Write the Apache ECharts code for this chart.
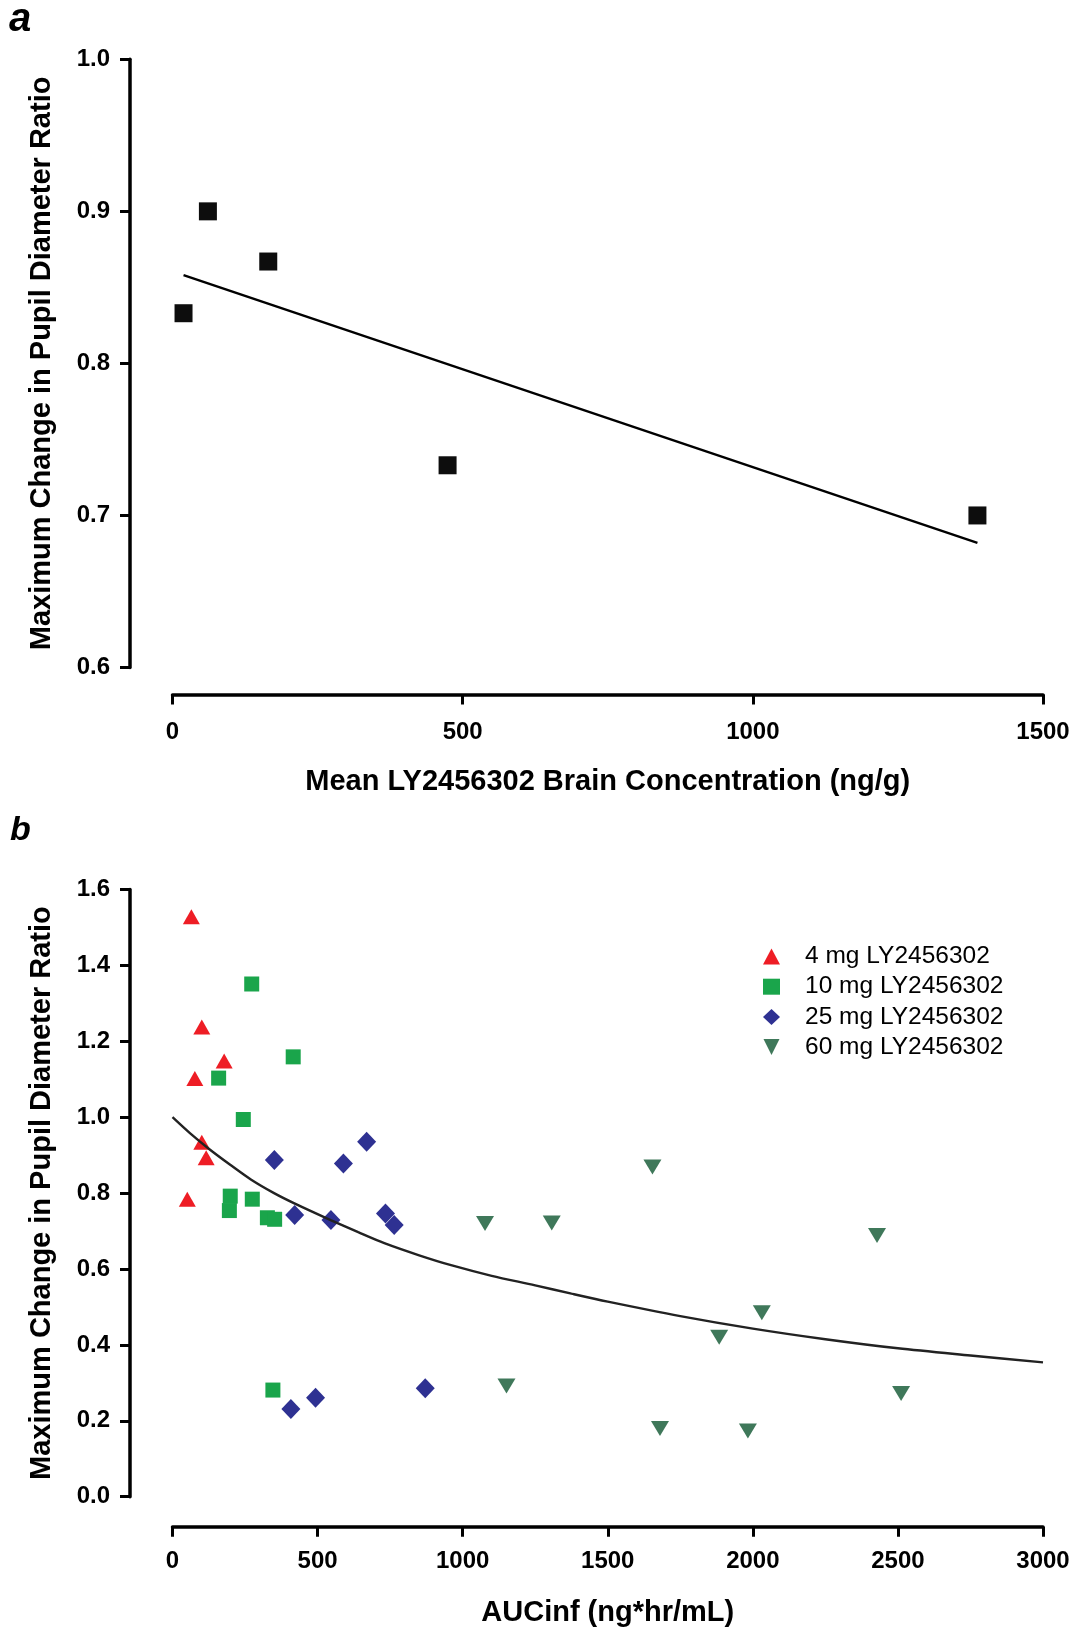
<!DOCTYPE html>
<html>
<head>
<meta charset="utf-8">
<script src="https://cdn.jsdelivr.net/npm/echarts@6/dist/echarts.min.js"></script>
<style>
html,body{margin:0;padding:0;background:#fff;}
#chart{width:1075px;height:1630px;}
</style>
</head>
<body>
<div id="chart"></div>
<script>
// Panel a data
const aConc = [19, 61, 165, 474, 1387];
const aRatio = [0.833, 0.900, 0.867, 0.733, 0.700];
const aFitX = [19, 1387];
const aFitY = [0.858, 0.682];
const aXTicks = [0, 500, 1000, 1500];
const aYTicks = [0.6, 0.7, 0.8, 0.9, 1.0];

// Panel b data
const legendNames = ['4 mg LY2456302', '10 mg LY2456302', '25 mg LY2456302', '60 mg LY2456302'];
const mg4X = [65, 101, 77, 178, 101, 116, 51];
const mg4Y = [1.528, 1.238, 1.102, 1.148, 0.934, 0.893, 0.784];
const mg10X = [273, 416, 159, 244, 199, 196, 275, 327, 352, 346];
const mg10Y = [1.351, 1.159, 1.103, 0.994, 0.792, 0.754, 0.784, 0.735, 0.731, 0.281];
const mg25X = [351, 589, 669, 421, 546, 734, 764, 408, 493, 871];
const mg25Y = [0.887, 0.878, 0.935, 0.742, 0.729, 0.746, 0.716, 0.231, 0.261, 0.286];
const mg60X = [1077, 1307, 1654, 2428, 2031, 1884, 1151, 2511, 1680, 1983];
const mg60Y = [0.720, 0.721, 0.869, 0.688, 0.485, 0.420, 0.292, 0.272, 0.180, 0.173];
const curveX = [0, 60, 125, 200, 270, 350, 420, 545, 640, 730, 850, 960, 1100, 1250, 1375, 1500, 1750, 2000, 2250, 2500, 2750, 3000];
const curveY = [1.0, 0.958, 0.917, 0.874, 0.836, 0.800, 0.773, 0.729, 0.697, 0.668, 0.636, 0.610, 0.582, 0.557, 0.535, 0.514, 0.476, 0.443, 0.415, 0.391, 0.372, 0.354];
const bXTicks = [0, 500, 1000, 1500, 2000, 2500, 3000];
const bYTicks = [0, 0.2, 0.4, 0.6, 0.8, 1.0, 1.2, 1.4, 1.6];

const zip = (xs, ys) => xs.map((x, i) => [x, ys[i]]);
const FF = '"Liberation Sans", Arial, Helvetica, sans-serif';
const downTri = 'path://M0,0L10,0L5,10Z';

function xAx(gi, ticks, offset, name, gap, margin) {
  return {
    gridIndex: gi, type: 'value',
    min: ticks[0], max: ticks[ticks.length - 1], interval: ticks[1] - ticks[0],
    offset: offset,
    name: name, nameLocation: 'middle', nameGap: gap,
    nameTextStyle: {fontFamily: FF, fontWeight: 'bold', fontSize: 29, color: '#000'},
    axisLine: {show: true, onZero: false, lineStyle: {color: '#000', width: 3.5}},
    axisTick: {show: true, inside: false, length: 10, lineStyle: {color: '#000', width: 3}},
    axisLabel: {fontFamily: FF, fontWeight: 'bold', fontSize: 24, color: '#000', margin: margin,
      formatter: v => String(v)},
    splitLine: {show: false}
  };
}
function yAx(gi, ticks, name) {
  return {
    gridIndex: gi, type: 'value',
    min: ticks[0], max: ticks[ticks.length - 1], interval: +(ticks[1] - ticks[0]).toFixed(2),
    offset: 42.5,
    name: name, nameLocation: 'middle', nameGap: 74,
    nameTextStyle: {fontFamily: FF, fontWeight: 'bold', fontSize: 29, color: '#000'},
    axisLine: {show: true, onZero: false, lineStyle: {color: '#000', width: 3.5}},
    axisTick: {show: true, inside: false, length: 10, lineStyle: {color: '#000', width: 3}},
    axisLabel: {fontFamily: FF, fontWeight: 'bold', fontSize: 24, color: '#000', margin: 20,
      formatter: v => v.toFixed(1)},
    splitLine: {show: false}
  };
}

const chart = echarts.init(document.getElementById('chart'), null, {renderer: 'canvas'});
const yName = 'Maximum Change in Pupil Diameter Ratio';
const option = {
  animation: false,
  backgroundColor: '#fff',
  graphic: [
    {type: 'text', left: 9, top: 0, style: {text: 'a', font: 'italic bold 40px ' + FF, fill: '#000'}},
    {type: 'text', left: 10, top: 814, style: {text: 'b', font: 'italic bold 34px ' + FF, fill: '#000'}}
  ],
  grid: [
    {left: 172.5, right: 32, top: 59.3, height: 608.2},
    {left: 172.5, right: 32, top: 889.5, height: 607.2}
  ],
  xAxis: [
    xAx(0, aXTicks, 27, 'Mean LY2456302 Brain Concentration (ng/g)', 73, 26),
    xAx(1, bXTicks, 30, 'AUCinf (ng*hr/mL)', 72, 23)
  ],
  yAxis: [yAx(0, aYTicks, yName), yAx(1, bYTicks, yName)],
  legend: {
    orient: 'vertical', left: 758, top: 939,
    itemWidth: 17, itemHeight: 16, itemGap: 5.2,
    selectedMode: false,
    textStyle: {fontFamily: FF, fontSize: 24.5, color: '#000', padding: [0, 0, 0, 20]},
    data: [
      {name: legendNames[0], icon: 'triangle'},
      {name: legendNames[1], icon: 'rect'},
      {name: legendNames[2], icon: 'diamond'},
      {name: legendNames[3], icon: downTri}
    ]
  },
  series: [
    {type: 'scatter', xAxisIndex: 0, yAxisIndex: 0, data: zip(aConc, aRatio),
      symbol: 'rect', symbolSize: 18, itemStyle: {color: '#0d0d0d', opacity: 1}, z: 3},
    {type: 'line', xAxisIndex: 0, yAxisIndex: 0, data: zip(aFitX, aFitY),
      showSymbol: false, symbol: 'none', lineStyle: {color: '#000', width: 2.4}, z: 2},
    {type: 'line', xAxisIndex: 1, yAxisIndex: 1, data: zip(curveX, curveY),
      smooth: 0.3, showSymbol: false, symbol: 'none', lineStyle: {color: '#222', width: 2.4}, z: 4},
    {name: legendNames[0], type: 'scatter', xAxisIndex: 1, yAxisIndex: 1, data: zip(mg4X, mg4Y),
      symbol: 'triangle', symbolSize: [17, 15], itemStyle: {color: '#ee1d25', opacity: 1}, z: 3},
    {name: legendNames[1], type: 'scatter', xAxisIndex: 1, yAxisIndex: 1, data: zip(mg10X, mg10Y),
      symbol: 'rect', symbolSize: 15, itemStyle: {color: '#1aa54b', opacity: 1}, z: 3},
    {name: legendNames[2], type: 'scatter', xAxisIndex: 1, yAxisIndex: 1, data: zip(mg25X, mg25Y),
      symbol: 'diamond', symbolSize: [19, 20], itemStyle: {color: '#2e3192', opacity: 1}, z: 3},
    {name: legendNames[3], type: 'scatter', xAxisIndex: 1, yAxisIndex: 1, data: zip(mg60X, mg60Y),
      symbol: downTri, symbolSize: [18, 15], itemStyle: {color: '#3f785a', opacity: 1}, z: 3}
  ]
};
chart.setOption(option);
</script>
</body>
</html>
